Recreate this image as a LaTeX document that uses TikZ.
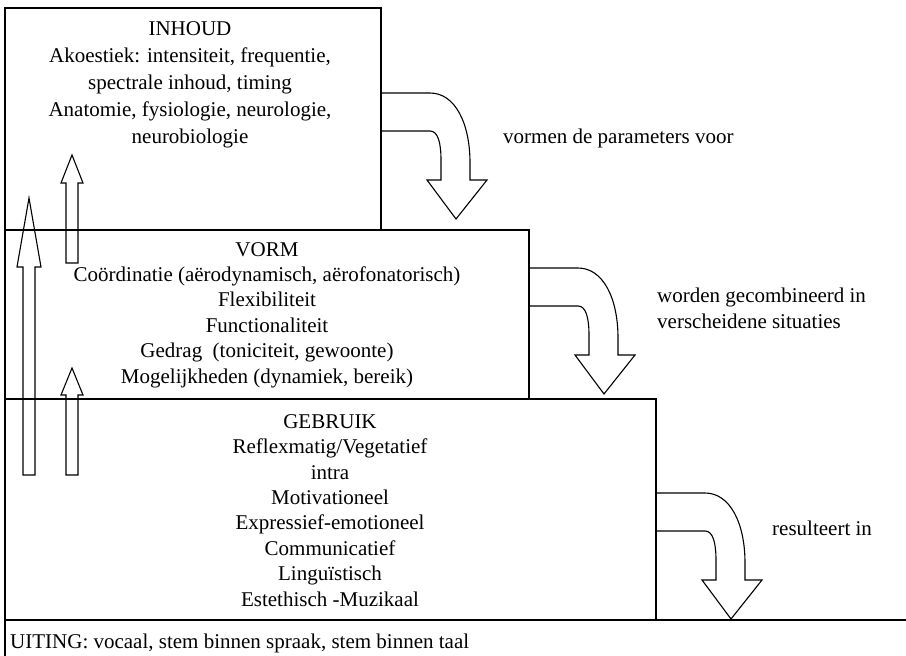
\documentclass[tikz,border=0pt]{standalone}
\usepackage{fontspec}
\setmainfont{Liberation Serif}
\tikzset{
  boxline/.style={line width=1.6pt},
  arrowline/.style={line width=1.1pt, line join=miter},
  txt/.style={inner sep=0pt, font=\fontsize{21}{25.4}\selectfont},
  bentarrow/.pic={
    \draw[arrowline] (0,0) -- (49,0) .. controls (74,0) and (89,30) .. (89,70) -- (89,87)
      -- (106,87) -- (75,126) -- (46,87) -- (60,87) -- (60,67)
      .. controls (60,50) and (57,38) .. (49,38) -- (0,38);
  }
}
\begin{document}
\begin{tikzpicture}[x=1pt,y=-1pt]
\useasboundingbox (0,0) rectangle (906,656);
% boxes
\draw[boxline] (5,656) -- (5,8) -- (381,8) -- (381,230);
\draw[boxline] (5,230) -- (529,230) -- (529,399);
\draw[boxline] (5,399) -- (656,399) -- (656,620);
\draw[boxline] (5,620) -- (906,620);
% texts (base anchor = baseline of the last line)
\node[txt, font=\fontsize{21}{27}\selectfont, align=center, anchor=base] (inhoud) at (190,143)
  {INHOUD\\Akoestiek: intensiteit, frequentie,\\spectrale inhoud, timing\\Anatomie, fysiologie, neurologie,\\neurobiologie};
\node[txt, align=center, anchor=base] (vorm) at (267,383)
  {VORM\\Coördinatie (aërodynamisch, aërofonatorisch)\\Flexibiliteit\\Functionaliteit\\Gedrag\ \ (toniciteit, gewoonte)\\Mogelijkheden (dynamiek, bereik)};
\node[txt, align=center, anchor=base] (gebruik) at (330,606)
  {GEBRUIK\\Reflexmatig/Vegetatief\\intra\\Motivationeel\\Expressief-emotioneel\\Communicatief\\Linguïstisch\\Estethisch -Muzikaal};
\node[txt, anchor=base west] (uiting) at (10,648) {UITING: vocaal, stem binnen spraak, stem binnen taal};
\node[txt, anchor=base west] (lab1) at (503,143) {vormen de parameters voor};
\node[txt, align=left, anchor=base west] (lab2) at (657,328) {worden gecombineerd in\\verscheidene situaties};
\node[txt, anchor=base west] (lab3) at (772,535) {resulteert in};
% bent arrows
\pic at (381,93) {bentarrow};
\pic at (529,268) {bentarrow};
\pic at (656,493) {bentarrow};
% up arrows
\draw[arrowline] (23,475) -- (23,267) -- (17,267) -- (29,198) -- (41,267) -- (35,267) -- (35,475) -- cycle;
\draw[arrowline] (66,263) -- (66,183) -- (61,183) -- (72,155) -- (83,183) -- (78,183) -- (78,263) -- cycle;
\draw[arrowline] (66,475) -- (66,395) -- (61,395) -- (72,368) -- (83,395) -- (78,395) -- (78,475) -- cycle;
\end{tikzpicture}
\end{document}
